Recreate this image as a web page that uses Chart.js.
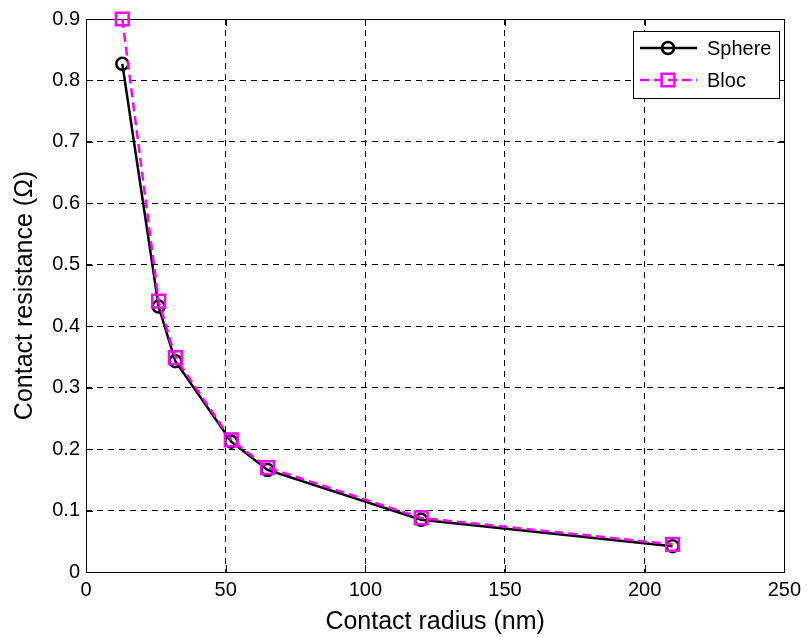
<!DOCTYPE html>
<html>
<head>
<meta charset="utf-8">
<script src="https://cdn.jsdelivr.net/npm/chart.js@4/dist/chart.umd.min.js"></script>
<style>
  body { margin: 0; background: #fff; }
  #wrap { width: 807px; height: 637px; position: relative; }
</style>
</head>
<body>
<div id="wrap"><canvas id="myChart"></canvas></div>
<script>
// data
let radius = [13, 26, 32, 52, 65, 120, 210];
let sphere = [0.827, 0.432, 0.343, 0.212, 0.166, 0.085, 0.042];
let bloc = [0.900, 0.441, 0.349, 0.215, 0.170, 0.088, 0.045];
let seriesNames = ['Sphere', 'Bloc'];
let xTicks = [0, 50, 100, 150, 200, 250];
let yTicks = [0, 0.1, 0.2, 0.3, 0.4, 0.5, 0.6, 0.7, 0.8, 0.9];

let font = "'Liberation Sans', Arial, Helvetica, sans-serif";

let toPoints = (xs, ys) => xs.map((x, i) => ({ x: x, y: ys[i] }));

// box around the axes + inward ticks on all four sides
let boxPlugin = {
  id: 'box',
  beforeDatasetsDraw(chart) {
    let ctx = chart.ctx;
    let a = chart.chartArea;
    let xs = chart.scales.x, ys = chart.scales.y;
    let tl = 7;
    ctx.save();
    ctx.strokeStyle = '#000';
    ctx.lineWidth = 1;
    ctx.setLineDash([]);
    ctx.strokeRect(Math.round(a.left) + 0.5, Math.round(a.top) + 0.5,
      Math.round(a.right - a.left), Math.round(a.bottom - a.top));
    ctx.beginPath();
    xTicks.forEach((v) => {
      let px = Math.round(xs.getPixelForValue(v)) + 0.5;
      ctx.moveTo(px, a.bottom); ctx.lineTo(px, a.bottom - tl);
      ctx.moveTo(px, a.top); ctx.lineTo(px, a.top + tl);
    });
    yTicks.forEach((v) => {
      let py = Math.round(ys.getPixelForValue(v)) + 0.5;
      ctx.moveTo(a.left, py); ctx.lineTo(a.left + tl, py);
      ctx.moveTo(a.right, py); ctx.lineTo(a.right - tl, py);
    });
    ctx.stroke();
    ctx.restore();
  }
};

// matlab style legend box in the top right corner
let legendPlugin = {
  id: 'mlegend',
  afterDraw(chart) {
    let ctx = chart.ctx;
    let L = 633, T = 31, R = 779, B = 98;
    let rows = [48, 80];
    ctx.save();
    ctx.fillStyle = '#fff';
    ctx.fillRect(L, T, R - L, B - T);
    ctx.strokeStyle = '#000';
    ctx.lineWidth = 1;
    ctx.strokeRect(L + 0.5, T + 0.5, R - L, B - T);

    chart.data.datasets.forEach((ds) => {
      let y = rows[ds.legendRow];
      ctx.strokeStyle = ds.borderColor;
      ctx.lineWidth = ds.borderWidth;
      ctx.setLineDash(ds.borderDash || []);
      ctx.beginPath();
      ctx.moveTo(640, y); ctx.lineTo(697, y);
      ctx.stroke();
      ctx.setLineDash([]);
      ctx.fillStyle = 'rgba(0,0,0,0)';
      ctx.strokeStyle = ds.pointBorderColor;
      ctx.lineWidth = ds.pointBorderWidth;
      Chart.helpers.drawPoint(ctx, {
        pointStyle: ds.pointStyle,
        radius: ds.pointRadius,
        borderWidth: ds.pointBorderWidth
      }, 668, y);
      ctx.fillStyle = '#000';
      ctx.font = '20px ' + font;
      ctx.textAlign = 'left';
      ctx.textBaseline = 'middle';
      ctx.fillText(ds.label, 707, y + 1);
    });
    ctx.restore();
  }
};

var ctx = document.getElementById('myChart').getContext('2d');
var myChart = new Chart(ctx, {
  type: 'line',
  data: {
    datasets: [{
      label: seriesNames[0],
      legendRow: 0,
      data: toPoints(radius, sphere),
      borderColor: '#000000',
      backgroundColor: 'rgba(0,0,0,0)',
      borderWidth: 2.5,
      pointStyle: 'circle',
      pointRadius: 6,
      pointBorderWidth: 2.5,
      pointBackgroundColor: 'rgba(0,0,0,0)',
      pointBorderColor: '#000000',
      order: 1,
      clip: false
    }, {
      label: seriesNames[1],
      legendRow: 1,
      data: toPoints(radius, bloc),
      borderColor: '#FF00FF',
      backgroundColor: 'rgba(0,0,0,0)',
      borderWidth: 2.5,
      borderDash: [9, 5],
      pointStyle: 'rect',
      pointRadius: 9,
      pointBorderWidth: 2.5,
      pointBackgroundColor: 'rgba(0,0,0,0)',
      pointBorderColor: '#FF00FF',
      order: 0,
      clip: false
    }]
  },
  options: {
    responsive: true,
    maintainAspectRatio: false,
    animation: false,
    layout: { padding: { top: 19, right: 18, left: 0, bottom: 0 } },
    plugins: {
      legend: { display: false },
      tooltip: { enabled: false }
    },
    scales: {
      x: {
        type: 'linear',
        min: 0,
        max: 250,
        afterBuildTicks: (s) => { s.ticks = xTicks.map((v) => ({ value: v })); },
        afterFit: (s) => { s.height = 65; },
        grid: { color: '#000', lineWidth: 1, drawTicks: false },
        border: { display: false, dash: [6, 5] },
        ticks: {
          padding: 6,
          color: '#000',
          font: { family: font, size: 20 },
          callback: (v) => String(v)
        },
        title: {
          display: true,
          text: 'Contact radius (nm)',
          color: '#000',
          font: { family: font, size: 25 },
          padding: { top: 0, bottom: 0 }
        }
      },
      y: {
        type: 'linear',
        min: 0,
        max: 0.9,
        afterBuildTicks: (s) => { s.ticks = yTicks.map((v) => ({ value: v })); },
        afterFit: (s) => { s.width = 86; },
        grid: { color: '#000', lineWidth: 1, drawTicks: false },
        border: { display: false, dash: [6, 5] },
        ticks: {
          padding: 6,
          color: '#000',
          font: { family: font, size: 20 },
          callback: (v) => v === 0 ? '0' : v.toFixed(1)
        },
        title: {
          display: true,
          text: 'Contact resistance (\u03A9)',
          color: '#000',
          font: { family: font, size: 25 },
          padding: { top: 10, bottom: 0 }
        }
      }
    }
  },
  plugins: [boxPlugin, legendPlugin]
});
</script>
</body>
</html>
